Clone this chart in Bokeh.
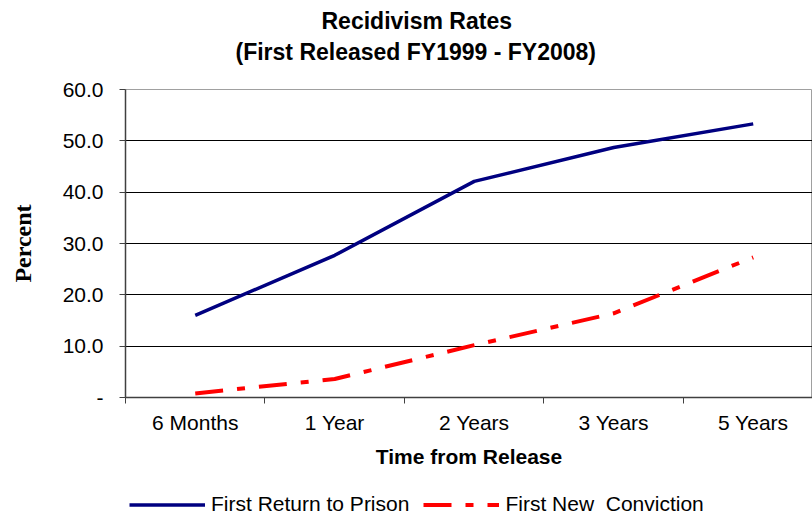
from bokeh.plotting import figure
from bokeh.layouts import column
from bokeh.models import Range1d, FixedTicker, Legend, LegendItem, Title
from bokeh.embed import file_html
from bokeh.resources import INLINE

categories = ["6 Months", "1 Year", "2 Years", "3 Years", "5 Years"]
return_to_prison = [16.0, 27.7, 42.1, 48.7, 53.3]
new_conviction = [0.8, 3.6, 10.2, 16.4, 27.3]
series_names = ["First Return to Prison", "First New  Conviction"]
y_ticks = [0, 10, 20, 30, 40, 50, 60]
y_labels = ["-", "10.0", "20.0", "30.0", "40.0", "50.0", "60.0"]

xc = [i + 0.5 for i in range(len(categories))]
font = "Liberation Sans"
blue = "#000080"
red = "#ff0000"
dash = "28 14 8 14"

p = figure(width=812, height=476, output_backend="svg", toolbar_location=None,
           x_range=Range1d(0, 4.925), y_range=Range1d(0, 60),
           min_border_left=125, min_border_right=0, min_border_top=89, min_border_bottom=79)
p.background_fill_color = "white"
p.border_fill_color = "white"
p.outline_line_color = "#a0a0a0"
p.outline_line_width = 1

# spacer between the frame and the title lines
t0 = Title(text=" ", text_font_size="1px", standoff=19)
t2 = Title(text="(First Released FY1999 - FY2008)", align="left", offset=110, standoff=6,
           text_font=font, text_font_size="23px", text_font_style="bold", text_color="black")
t1 = Title(text="Recidivism Rates", align="left", offset=196, standoff=0,
           text_font=font, text_font_size="23px", text_font_style="bold", text_color="black")
p.add_layout(t0, "above")
p.add_layout(t2, "above")
p.add_layout(t1, "above")

p.line(xc, return_to_prison, line_color=blue, line_width=3.5)
p.line(xc, new_conviction, line_color=red, line_width=4, line_dash=dash)

xa = p.xaxis[0]
xa.ticker = FixedTicker(ticks=xc, minor_ticks=[0, 1, 2, 3, 4])
xa.major_label_overrides = {x: c for x, c in zip(xc, categories)}
xa.major_tick_line_color = None
xa.minor_tick_line_color = "#404040"
xa.minor_tick_out = 6
xa.minor_tick_in = 0
xa.axis_line_color = "#404040"
xa.axis_line_width = 1.5
xa.major_label_text_font = font
xa.major_label_text_font_size = "21px"
xa.major_label_text_color = "black"
xa.major_label_standoff = 7
xa.axis_label = "Time from Release"
xa.axis_label_text_font = font
xa.axis_label_text_font_size = "21px"
xa.axis_label_text_font_style = "bold"
xa.axis_label_text_color = "black"
xa.axis_label_standoff = 8

ya = p.yaxis[0]
ya.ticker = FixedTicker(ticks=y_ticks)
ya.major_label_overrides = {t: l for t, l in zip(y_ticks, y_labels)}
ya.major_tick_out = 6
ya.major_tick_in = 0
ya.major_tick_line_color = "#404040"
ya.minor_tick_line_color = None
ya.axis_line_color = "#404040"
ya.axis_line_width = 1.5
ya.major_label_text_font = font
ya.major_label_text_font_size = "21px"
ya.major_label_text_color = "black"
ya.major_label_standoff = 16
ya.axis_label = "Percent"
ya.axis_label_text_font = "Liberation Serif"
ya.axis_label_text_font_size = "24px"
ya.axis_label_text_font_style = "bold"
ya.axis_label_text_color = "black"
ya.axis_label_standoff = 24

p.xgrid.grid_line_color = None
p.ygrid.ticker = FixedTicker(ticks=[10, 20, 30, 40, 50])
p.ygrid.grid_line_color = "black"
p.ygrid.grid_line_width = 1

# legend strip below the chart
q = figure(width=812, height=38, output_backend="svg", toolbar_location=None,
           x_range=Range1d(0, 1), y_range=Range1d(0, 1), x_axis_type=None, y_axis_type=None,
           min_border_left=0, min_border_right=0, min_border_top=0, min_border_bottom=0)
q.outline_line_color = None
q.grid.grid_line_color = None
g1 = q.line([5, 6], [5, 5], line_color=blue, line_width=3.5)
g2 = q.line([5, 6], [5, 5], line_color=red, line_width=4, line_dash=dash)
legend = Legend(items=[LegendItem(label=series_names[0], renderers=[g1]),
                       LegendItem(label=series_names[1], renderers=[g2])],
                orientation="horizontal", location=(4, -2),
                label_text_font=font, label_text_font_size="21px", label_text_color="black",
                glyph_width=76, glyph_height=21, label_height=21, label_standoff=6, spacing=14,
                padding=0, margin=0, border_line_color=None, background_fill_alpha=0)
q.add_layout(legend, "center")

open("out.html", "w").write(file_html(column(p, q, spacing=0), INLINE))
